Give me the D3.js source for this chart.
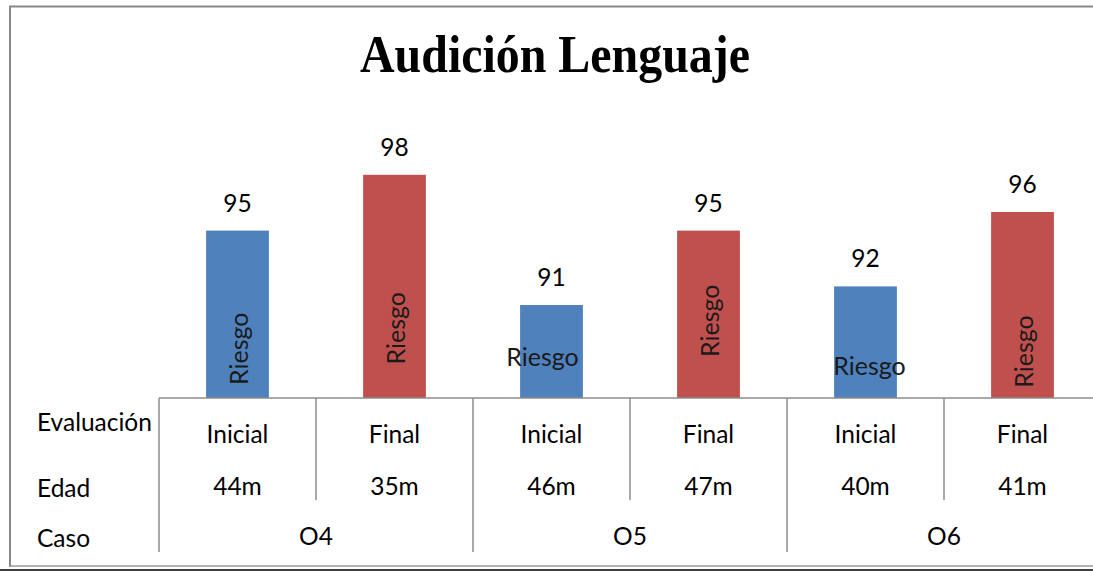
<!DOCTYPE html>
<html><head><meta charset="utf-8">
<script src="https://cdn.jsdelivr.net/npm/d3@7"></script>
<style>body{margin:0;background:#fff}svg{display:block}</style>
</head><body>
<script>
const title = "Audición Lenguaje";
const evaluacion = ["Inicial","Final","Inicial","Final","Inicial","Final"];
const edad = ["44m","35m","46m","47m","40m","41m"];
const casos = ["O4","O5","O6"];
const values = [95,98,91,95,92,96];
const riesgoText = ["Riesgo","Riesgo","Riesgo","Riesgo","Riesgo","Riesgo"];
const riesgoAngle = [-90,-90,0,-90,0,-90];
const riesgoAt = [88.65,89.75,88.25,90.15,87.75,88.5];
const riesgoShift = [0,0,-9,0,4,0];
const rowLabels = ["Evaluación","Edad","Caso"];
const colors = ["#4F81BD","#C0504D"];

const W = 1093, H = 571;
const svg = d3.select("body").append("svg").attr("width", W).attr("height", H);
const font = "Lato, 'Open Sans', sans-serif";
const fs = 24.5;

// frame
svg.append("path").attr("d", "M10,567 V6.5 H1093").attr("fill","none").attr("stroke","#888").attr("stroke-width",2);
svg.append("line").attr("x1",10).attr("x2",1093).attr("y1",566).attr("y2",566).attr("stroke","#999").attr("stroke-width",1.5);
svg.append("line").attr("x1",0).attr("x2",1093).attr("y1",570).attr("y2",570).attr("stroke","#000").attr("stroke-width",1.5);

svg.append("text").attr("x", 555).attr("y", 72).attr("text-anchor","middle")
  .attr("font-family","'Liberation Serif', 'Times New Roman', serif").attr("font-weight","bold")
  .attr("font-size", 52).attr("textLength", 390).attr("lengthAdjust","spacingAndGlyphs").text(title);

const idx = d3.range(values.length);
const x = d3.scaleBand().domain(idx).range([159, 1101]).paddingInner(0.6).paddingOuter(0.3);
const y = d3.scaleLinear().domain([86, 100]).range([398, 137.6]);

svg.selectAll("rect.bar").data(idx).join("rect").attr("class","bar")
  .attr("x", i => x(i)).attr("width", x.bandwidth())
  .attr("y", i => y(values[i])).attr("height", i => y(86) - y(values[i]))
  .attr("fill", i => colors[i % 2]);

svg.selectAll("text.val").data(idx).join("text").attr("class","val")
  .attr("x", i => x(i) + x.bandwidth()/2).attr("y", i => y(values[i]) - 19)
  .attr("text-anchor","middle").attr("font-family", font).attr("font-size", fs).attr("fill","#000")
  .text(i => values[i]);

svg.selectAll("text.riesgo").data(idx).join("text").attr("class","riesgo")
  .attr("transform", i => `translate(${x(i) + x.bandwidth()/2 + riesgoShift[i]},${y(riesgoAt[i])}) rotate(${riesgoAngle[i]})`)
  .attr("text-anchor","middle").attr("dominant-baseline","central")
  .attr("font-family", font).attr("font-size", fs + 0.5).attr("fill","#1a1a1a")
  .text(i => riesgoText[i]);

// table
const step = x.step();
const x0 = 159;
const g = svg.append("g").attr("stroke","#8c8c8c").attr("stroke-width",1.5);
g.append("line").attr("x1", x0).attr("x2", 1093).attr("y1", 398).attr("y2", 398);
idx.forEach(i => {
  const xx = x0 + step * i;
  g.append("line").attr("x1", xx).attr("x2", xx).attr("y1", 398).attr("y2", i % 2 === 0 ? 552 : 500);
});

svg.selectAll("text.ev").data(idx).join("text").attr("class","ev")
  .attr("x", i => x(i) + x.bandwidth()/2).attr("y", 433).attr("dominant-baseline","central")
  .attr("text-anchor","middle").attr("font-family", font).attr("font-size", fs).text(i => evaluacion[i]);
svg.selectAll("text.ed").data(idx).join("text").attr("class","ed")
  .attr("x", i => x(i) + x.bandwidth()/2).attr("y", 485).attr("dominant-baseline","central")
  .attr("text-anchor","middle").attr("font-family", font).attr("font-size", fs).text(i => edad[i]);
svg.selectAll("text.caso").data(casos).join("text").attr("class","caso")
  .attr("x", (d,j) => x0 + step * (2*j + 1)).attr("y", 535).attr("dominant-baseline","central")
  .attr("text-anchor","middle").attr("font-family", font).attr("font-size", fs).text(d => d);

const rowY = [421, 487, 537];
svg.selectAll("text.row").data(rowLabels).join("text").attr("class","row")
  .attr("x", 37).attr("y", (d,j) => rowY[j]).attr("dominant-baseline","central")
  .attr("font-family", font).attr("font-size", fs).text(d => d);
</script>
</body></html>
